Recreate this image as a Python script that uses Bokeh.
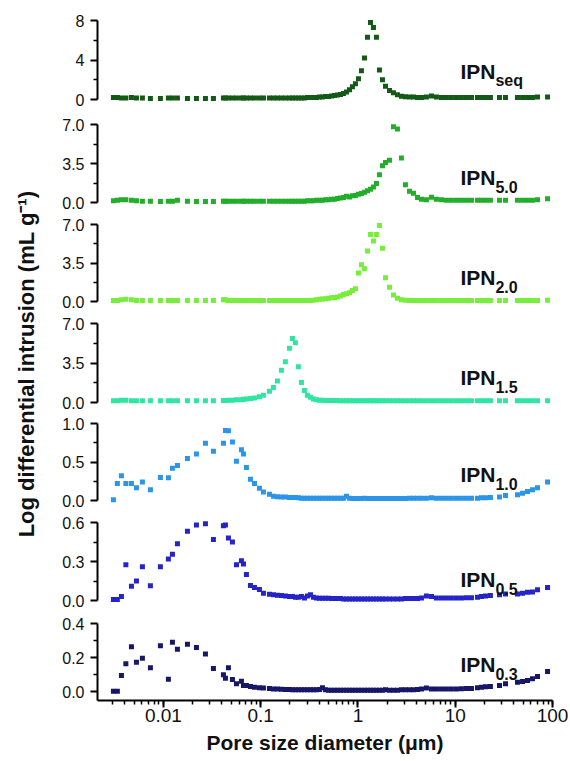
import math
from bokeh.plotting import figure
from bokeh.layouts import row, column
from bokeh.models import (Range1d, FixedTicker, LogTicker, Label,
                          PrintfTickFormatter, CustomJSTickFormatter)
from bokeh.embed import file_html
from bokeh.resources import INLINE

# Pore size diameter (um), shared by all samples
DIAMETER = [
    0.00306, 0.00336, 0.00370, 0.00411, 0.00469, 0.00528, 0.00608, 0.00735, 0.00931, 0.01125,
    0.01238, 0.01393, 0.01766, 0.02185, 0.02704, 0.03266, 0.04139, 0.04341, 0.04659, 0.05124,
    0.05636, 0.06339, 0.06650, 0.07133, 0.07845, 0.08630, 0.09705, 0.1067, 0.1230, 0.1352,
    0.1486, 0.1633, 0.1795, 0.1976, 0.2120, 0.2275, 0.2441, 0.2624, 0.2816, 0.3025,
    0.3250, 0.3486, 0.3743, 0.4018, 0.4315, 0.4634, 0.4977, 0.5346, 0.5734, 0.6152,
    0.6607, 0.7096, 0.7621, 0.8185, 0.8770, 0.9419, 1.012, 1.086, 1.167, 1.253,
    1.345, 1.443, 1.549, 1.663, 1.786, 1.919, 2.109, 2.317, 2.547, 2.799,
    3.076, 3.388, 3.724, 4.093, 4.498, 5.058, 5.702, 6.412, 7.228, 8.128,
    9.141, 10.30, 11.59, 13.05, 14.69, 16.94, 18.62, 20.47, 23.01, 28.51,
    32.88, 43.65, 49.20, 55.34, 62.23, 70.14, 88.92,
]

IPN_SEQ = [
    0.2, 0.2, 0.15, 0.15, 0.2, 0.15, 0.15, 0.1, 0.1, 0.15,
    0.15, 0.15, 0.1, 0.1, 0.1, 0.1, 0.15, 0.15, 0.15, 0.15,
    0.15, 0.15, 0.15, 0.15, 0.15, 0.15, 0.15, 0.15, 0.15, 0.15,
    0.15, 0.15, 0.15, 0.15, 0.15, 0.15, 0.15, 0.15, 0.15, 0.2,
    0.2, 0.2, 0.2, 0.25, 0.25, 0.3, 0.3, 0.35, 0.4, 0.45,
    0.5, 0.6, 0.75, 1.0, 1.3, 1.6, 2.1, 2.9, 4.2, 6.3,
    7.8, 7.3, 6.3, 3.0, 2.0, 1.35, 0.9, 0.68, 0.47, 0.33,
    0.28, 0.25, 0.25, 0.2, 0.2, 0.25, 0.35, 0.25, 0.2, 0.2,
    0.2, 0.2, 0.2, 0.2, 0.2, 0.2, 0.2, 0.2, 0.2, 0.2,
    0.2, 0.2, 0.2, 0.2, 0.2, 0.25, 0.25,
]

IPN_5_0 = [
    0.15, 0.2, 0.25, 0.25, 0.2, 0.15, 0.12, 0.12, 0.1, 0.12,
    0.12, 0.2, 0.12, 0.1, 0.1, 0.1, 0.12, 0.12, 0.12, 0.12,
    0.12, 0.12, 0.12, 0.12, 0.12, 0.12, 0.12, 0.12, 0.12, 0.12,
    0.12, 0.12, 0.12, 0.12, 0.12, 0.12, 0.12, 0.12, 0.12, 0.15,
    0.15, 0.15, 0.2, 0.2, 0.2, 0.25, 0.25, 0.3, 0.3, 0.35,
    0.4, 0.45, 0.55, 0.5, 0.6, 0.63, 0.75, 0.8, 0.93, 1.05,
    1.2, 1.4, 1.7, 2.5, 3.3, 3.6, 3.8, 6.8, 6.6, 4.0,
    1.6, 1.0, 0.84, 0.45, 0.3, 0.24, 0.47, 0.3, 0.25, 0.2,
    0.2, 0.2, 0.2, 0.2, 0.2, 0.2, 0.2, 0.2, 0.2, 0.2,
    0.2, 0.2, 0.2, 0.2, 0.2, 0.25, 0.33,
]

IPN_2_0 = [
    0.1, 0.1, 0.15, 0.2, 0.15, 0.1, 0.1, 0.1, 0.1, 0.1,
    0.1, 0.1, 0.1, 0.1, 0.1, 0.1, 0.15, 0.15, 0.1, 0.1,
    0.1, 0.1, 0.1, 0.1, 0.1, 0.1, 0.1, 0.1, 0.1, 0.1,
    0.1, 0.1, 0.1, 0.1, 0.1, 0.1, 0.1, 0.1, 0.1, 0.1,
    0.1, 0.12, 0.15, 0.2, 0.22, 0.25, 0.3, 0.33, 0.36, 0.4,
    0.5, 0.64, 0.7, 0.8, 1.0, 1.15, 2.6, 3.35, 2.97, 4.6,
    6.1, 5.5, 6.1, 6.9, 4.85, 2.15, 1.3, 0.6, 0.3, 0.15,
    0.12, 0.1, 0.1, 0.1, 0.1, 0.1, 0.1, 0.1, 0.1, 0.1,
    0.1, 0.1, 0.1, 0.1, 0.1, 0.1, 0.1, 0.1, 0.1, 0.1,
    0.1, 0.1, 0.1, 0.1, 0.1, 0.1, 0.12,
]

IPN_1_5 = [
    0.15, 0.15, 0.2, 0.2, 0.15, 0.15, 0.15, 0.15, 0.15, 0.15,
    0.15, 0.15, 0.15, 0.15, 0.15, 0.15, 0.18, 0.18, 0.2, 0.2,
    0.25, 0.25, 0.28, 0.3, 0.35, 0.4, 0.5, 0.65, 1.0, 1.33,
    1.9, 2.86, 3.6, 4.8, 5.67, 5.3, 3.16, 1.77, 1.06, 0.65,
    0.47, 0.3, 0.25, 0.2, 0.2, 0.18, 0.18, 0.18, 0.18, 0.18,
    0.15, 0.15, 0.15, 0.15, 0.15, 0.15, 0.15, 0.15, 0.15, 0.15,
    0.15, 0.15, 0.15, 0.15, 0.15, 0.15, 0.15, 0.15, 0.15, 0.15,
    0.15, 0.15, 0.15, 0.15, 0.15, 0.15, 0.15, 0.15, 0.15, 0.15,
    0.15, 0.15, 0.15, 0.15, 0.15, 0.15, 0.15, 0.15, 0.15, 0.15,
    0.15, 0.15, 0.15, 0.15, 0.15, 0.15, 0.15,
]

IPN_1_0 = [
    0.01, 0.22, 0.32, 0.22, 0.22, 0.165, 0.24, 0.14, 0.30, 0.295,
    0.42, 0.455, 0.545, 0.605, 0.745, 0.64, 0.745, 0.91, 0.905, 0.76,
    0.51, 0.66, 0.605, 0.43, 0.277, 0.22, 0.16, 0.11, 0.08, 0.055,
    0.05, 0.045, 0.045, 0.04, 0.04, 0.04, 0.035, 0.03, 0.03, 0.03,
    0.03, 0.03, 0.03, 0.028, 0.028, 0.028, 0.028, 0.028, 0.028, 0.028,
    0.028, 0.028, 0.055, 0.028, 0.025, 0.025, 0.025, 0.025, 0.028, 0.025,
    0.025, 0.025, 0.025, 0.025, 0.025, 0.025, 0.025, 0.025, 0.025, 0.025,
    0.025, 0.028, 0.028, 0.028, 0.03, 0.03, 0.035, 0.03, 0.03, 0.03,
    0.03, 0.03, 0.03, 0.03, 0.03, 0.03, 0.035, 0.035, 0.04, 0.045,
    0.065, 0.074, 0.095, 0.117, 0.139, 0.165, 0.24,
]

IPN_0_5 = [
    0.008, 0.008, 0.03, 0.275, 0.11, 0.15, 0.26, 0.113, 0.26, 0.32,
    0.356, 0.436, 0.533, 0.58, 0.59, 0.47, 0.575, 0.58, 0.48, 0.45,
    0.275, 0.305, 0.28, 0.2, 0.115, 0.10, 0.085, 0.056, 0.048, 0.044,
    0.04, 0.038, 0.035, 0.03, 0.03, 0.025, 0.025, 0.03, 0.02, 0.035,
    0.045, 0.025, 0.02, 0.018, 0.018, 0.018, 0.018, 0.015, 0.015, 0.015,
    0.015, 0.012, 0.012, 0.012, 0.012, 0.012, 0.012, 0.012, 0.012, 0.012,
    0.012, 0.012, 0.012, 0.012, 0.012, 0.012, 0.012, 0.012, 0.012, 0.012,
    0.015, 0.015, 0.015, 0.015, 0.02, 0.035, 0.03, 0.02, 0.02, 0.02,
    0.02, 0.02, 0.02, 0.022, 0.022, 0.025, 0.03, 0.035, 0.038, 0.044,
    0.05, 0.05, 0.056, 0.064, 0.065, 0.082, 0.10,
]

IPN_0_3 = [
    0.002, 0.002, 0.094, 0.163, 0.263, 0.172, 0.196, 0.14, 0.269, 0.072,
    0.29, 0.249, 0.278, 0.259, 0.22, 0.135, 0.098, 0.078, 0.14, 0.07,
    0.045, 0.06, 0.035, 0.035, 0.03, 0.025, 0.022, 0.02, 0.018, 0.015,
    0.015, 0.013, 0.012, 0.012, 0.01, 0.01, 0.01, 0.01, 0.01, 0.01,
    0.01, 0.01, 0.01, 0.012, 0.022, 0.01, 0.008, 0.008, 0.008, 0.008,
    0.008, 0.008, 0.007, 0.007, 0.007, 0.007, 0.007, 0.007, 0.007, 0.007,
    0.007, 0.007, 0.008, 0.008, 0.008, 0.01, 0.008, 0.008, 0.008, 0.01,
    0.01, 0.01, 0.01, 0.012, 0.015, 0.02, 0.015, 0.015, 0.015, 0.015,
    0.015, 0.015, 0.016, 0.018, 0.018, 0.022, 0.025, 0.028, 0.03, 0.035,
    0.045, 0.055, 0.059, 0.065, 0.075, 0.088, 0.118,
]

SERIES = [IPN_SEQ, IPN_5_0, IPN_2_0, IPN_1_5, IPN_1_0, IPN_0_5, IPN_0_3]
SUBSCRIPTS = ["seq", "5.0", "2.0", "1.5", "1.0", "0.5", "0.3"]
Y_MAX = [8, 7, 7, 7, 1.0, 0.6, 0.4]
Y_TICKS = [[0, 4, 8], [0, 3.5, 7], [0, 3.5, 7], [0, 3.5, 7],
           [0, 0.5, 1.0], [0, 0.3, 0.6], [0, 0.2, 0.4]]
Y_MINOR = [[2, 6], [1.75, 5.25], [1.75, 5.25], [1.75, 5.25],
           [0.25, 0.75], [0.15, 0.45], [0.1, 0.3]]
Y_FMT = ["%d", "%.1f", "%.1f", "%.1f", "%.1f", "%.1f", "%.1f"]
X_LABEL = "Pore size diameter (\u03bcm)"
Y_LABEL = "Log differential intrusion (mL g\u207b\u00b9)"

COLORS = ["#135a16", "#22ae2a", "#76ee3a", "#2ee6a2", "#2b95ea", "#2424c8", "#17176a"]

# layout (pixels)
FRAME_H = [87, 86, 85, 87, 85, 86, 81]
PAD_TOP = [4, 4, 4, 4, 4, 4, 4]
PAD_BOT = [4, 4, 4, 4, 4, 4, 9]
B_TOP = [16, 9, 7, 7, 7, 7, 8]
B_BOT = [8, 7, 7, 6, 7, 7, 40]
LAB_UP = [28, 25, 24, 25, 26, 21, 27]
FRAME_W = 455
LEFT_W = 40
FONT = "Liberation Sans"

panels = []
n = len(SERIES)
for i in range(n):
    last = i == n - 1
    span_px = FRAME_H[i] - PAD_TOP[i] - PAD_BOT[i]
    ppu = span_px / Y_MAX[i]
    y0 = -PAD_BOT[i] / ppu
    y1 = Y_MAX[i] + PAD_TOP[i] / ppu
    p = figure(frame_width=FRAME_W, frame_height=FRAME_H[i],
               x_axis_type="log", x_range=Range1d(0.0021, 100),
               y_range=Range1d(y0, y1),
               x_axis_location="below" if last else None,
               y_axis_location="left",
               output_backend="svg", toolbar_location=None,
               min_border_left=57, min_border_right=16,
               min_border_top=B_TOP[i], min_border_bottom=B_BOT[i])
    p.outline_line_color = None
    p.grid.grid_line_color = None
    p.background_fill_color = "white"
    p.border_fill_color = "white"

    p.scatter(DIAMETER, SERIES[i], marker="square", size=5,
              fill_color=COLORS[i], line_color=None)

    yax = p.yaxis[0]
    yax.ticker = FixedTicker(ticks=Y_TICKS[i], minor_ticks=Y_MINOR[i])
    yax.formatter = PrintfTickFormatter(format=Y_FMT[i])
    yax.bounds = (y0 if last else 0, Y_MAX[i])
    yax.axis_line_width = 2
    yax.axis_line_color = "black"
    yax.major_tick_line_width = 2
    yax.minor_tick_line_width = 1.5
    yax.major_tick_out = 7
    yax.major_tick_in = 0
    yax.minor_tick_out = 4
    yax.minor_tick_in = 0
    yax.major_label_standoff = 6
    yax.major_label_text_font = FONT
    yax.major_label_text_font_size = "16px"
    yax.major_label_text_color = "#111111"

    if last:
        xax = p.xaxis[0]
        xax.ticker = LogTicker(num_minor_ticks=10)
        xax.formatter = CustomJSTickFormatter(
            code="return Number(tick.toPrecision(6)).toString();")
        xax.axis_line_width = 2
        xax.axis_line_color = "black"
        xax.major_tick_line_width = 2
        xax.minor_tick_line_width = 1.5
        xax.major_tick_out = 7
        xax.major_tick_in = 0
        xax.minor_tick_out = 4
        xax.minor_tick_in = 0
        xax.major_label_standoff = 1
        xax.major_label_text_font = FONT
        xax.major_label_text_font_size = "19px"
        xax.major_label_text_color = "#111111"
        xax.axis_label = X_LABEL
        xax.axis_label_text_font = FONT
        xax.axis_label_text_font_style = "bold"
        xax.axis_label_text_font_size = "21px"
        xax.axis_label_text_color = "#111111"
        xax.axis_label_standoff = 6

    p.add_layout(Label(x=11.3, y=0, y_offset=LAB_UP[i], text="IPN",
                       text_font=FONT, text_font_style="bold",
                       text_font_size="21px", text_color="#111111",
                       text_align="left", text_baseline="alphabetic"))
    p.add_layout(Label(x=11.3, y=0, x_offset=35, y_offset=LAB_UP[i] - 9,
                       text=SUBSCRIPTS[i],
                       text_font=FONT, text_font_style="bold",
                       text_font_size="16px", text_color="#111111",
                       text_align="left", text_baseline="alphabetic"))
    panels.append(p)

TOTAL_H = 759
lab = figure(width=LEFT_W, height=TOTAL_H, x_range=Range1d(0, LEFT_W),
             y_range=Range1d(0, TOTAL_H), output_backend="svg",
             toolbar_location=None, x_axis_location=None, y_axis_location=None,
             min_border=0)
lab.outline_line_color = None
lab.grid.grid_line_color = None
lab.add_layout(Label(x=25.5, y=TOTAL_H - 363.5, text=Y_LABEL, angle=math.pi / 2,
                     text_align="center", text_baseline="middle",
                     text_font=FONT, text_font_style="bold",
                     text_font_size="22px", text_color="#111111"))

layout = row(lab, column(*panels))
open("out.html", "w").write(file_html(layout, INLINE))
